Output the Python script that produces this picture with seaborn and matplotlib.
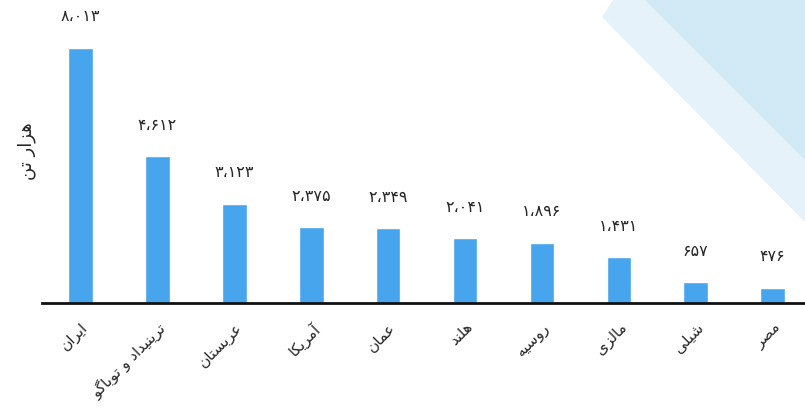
import matplotlib
matplotlib.use("Agg")
import matplotlib.pyplot as plt
from matplotlib.patches import Polygon
import seaborn as sns
import pandas as pd

countries = ["ایران", "ترینیداد و توباگو", "عربستان", "آمریکا", "عمان",
             "هلند", "روسیه", "مالزی", "شیلی", "مصر"]
values = [8013, 4612, 3123, 2375, 2349, 2041, 1896, 1431, 657, 476]
ylabel = "هزار تن"

# matplotlib has no arabic shaping, so pick presentation forms by hand
# (isolated, final, initial, medial)
FORMS = {
    "ا": "\uFE8D\uFE8E", "آ": "\uFE81\uFE82", "د": "\uFEA9\uFEAA",
    "ر": "\uFEAD\uFEAE", "ز": "\uFEAF\uFEB0", "و": "\uFEED\uFEEE",
    "ب": "\uFE8F\uFE90\uFE91\uFE92", "ت": "\uFE95\uFE96\uFE97\uFE98",
    "س": "\uFEB1\uFEB2\uFEB3\uFEB4", "ش": "\uFEB5\uFEB6\uFEB7\uFEB8",
    "ص": "\uFEB9\uFEBA\uFEBB\uFEBC", "ع": "\uFEC9\uFECA\uFECB\uFECC",
    "ل": "\uFEDD\uFEDE\uFEDF\uFEE0", "م": "\uFEE1\uFEE2\uFEE3\uFEE4",
    "ن": "\uFEE5\uFEE6\uFEE7\uFEE8", "ه": "\uFEE9\uFEEA\uFEEB\uFEEC",
    "ک": "\uFB8E\uFB8F\uFB90\uFB91", "گ": "\uFB92\uFB93\uFB94\uFB95",
    "ی": "\uFEEF\uFEF0\uFEF3\uFEF4",
}


def shape(text):
    out = []
    for i, ch in enumerate(text):
        if ch not in FORMS:
            out.append(ch)
            continue
        prev = text[i - 1] if i > 0 else ""
        nxt = text[i + 1] if i + 1 < len(text) else ""
        join_prev = prev in FORMS and len(FORMS[prev]) == 4
        join_next = len(FORMS[ch]) == 4 and nxt in FORMS
        if join_prev and join_next:
            k = 3
        elif join_prev:
            k = 1
        elif join_next:
            k = 2
        else:
            k = 0
        out.append(FORMS[ch][k])
    return "".join(out)[::-1]


def fa_num(n):
    s = f"{n:,}".replace(",", "،")
    return s.translate(str.maketrans("0123456789", "۰۱۲۳۴۵۶۷۸۹"))


df = pd.DataFrame({"country": countries, "value": values})

sns.set_style("white")
plt.rcParams["font.family"] = ["DejaVu Sans"]

fig = plt.figure(figsize=(8.05, 4.11), dpi=100)

# decorative blue bands top right
W, H = 805.0, 411.0
def fp(pts):
    return [(x / W, 1 - y / H) for x, y in pts]
fig.patches.append(Polygon(fp([(602, 17), (613, 0), (805, 0), (805, 222)]),
                           closed=True, transform=fig.transFigure,
                           facecolor="#e5f2f9", edgecolor="none", zorder=0))
fig.patches.append(Polygon(fp([(645, 0), (805, 0), (805, 160)]),
                           closed=True, transform=fig.transFigure,
                           facecolor="#d2eaf6", edgecolor="none", zorder=0))

ax = fig.add_axes([42 / W, 108 / H, 1 - 42 / W, 1 - 108 / H])
ax.patch.set_alpha(0)

sns.barplot(data=df, x="country", y="value", color="#46a5ec", width=0.32,
            saturation=1, ax=ax)

ax.set_ylim(0, 9520)
ax.set_xlim(-0.5, 9.42)

for i, v in enumerate(values):
    ax.annotate(fa_num(v), (i, v), xytext=(0, 31), textcoords="offset pixels",
                ha="center", va="center", fontsize=11.5, annotation_clip=False)

ax.set_xticks(range(len(countries)))
ax.set_xticklabels([shape(c) for c in countries], rotation=45, ha="right",
                   rotation_mode="anchor", fontsize=11)
ax.tick_params(axis="x", length=0, pad=12)
ax.set_yticks([])
ax.set_xlabel("")
ax.set_ylabel(" ".join(shape(w) for w in ylabel.split()[::-1]), fontsize=13,
              labelpad=4)

for s in ["left", "top", "right"]:
    ax.spines[s].set_visible(False)
ax.spines["bottom"].set_color("#111111")
ax.spines["bottom"].set_linewidth(2)

fig.savefig("out.png", dpi=100)
